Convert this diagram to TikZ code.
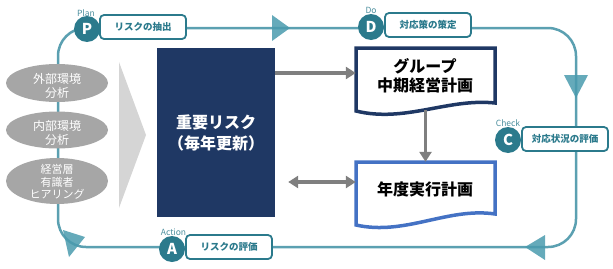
\documentclass[tikz,border=0pt]{standalone}
\usepackage{fontspec}
\setmainfont{Noto Sans CJK JP}
\usetikzlibrary{shapes.geometric,arrows.meta,calc}
\definecolor{loopc}{HTML}{5BA0B1}
\definecolor{tealdk}{HTML}{2B7A8C}
\definecolor{tric}{HTML}{4A9BAE}
\definecolor{ellc}{HTML}{A6A6A6}
\definecolor{chev}{HTML}{D5D5D5}
\definecolor{navy}{HTML}{1F3864}
\definecolor{docblue}{HTML}{4472C4}
\definecolor{garr}{HTML}{7F7F7F}
\begin{document}
\begin{tikzpicture}[x=1pt,y=-1pt,
 loopline/.style={draw=loopc,line width=2.5pt},
 tri/.style={fill=tric,fill opacity=0.85},
 phase/.style={circle,fill=tealdk,minimum size=26,inner sep=0,text=white,font=\fontsize{15}{15}\selectfont\bfseries},
 tag/.style={draw=tealdk,line width=1.8pt,fill=white,rounded corners=4,minimum width=86,minimum height=24,inner sep=0,text=tealdk,font=\fontsize{9.5}{10}\selectfont\bfseries},
 small/.style={text=tealdk!85,font=\fontsize{8.5}{9}\selectfont,inner sep=0},
 ell/.style={ellipse,fill=ellc,inner sep=0,minimum width=102},
 elltext/.style={text=white,align=center,inner sep=0},
 docbox/.style={minimum width=139,inner sep=0},
 doctext/.style={align=center,inner sep=0,font=\fontsize{16}{19}\selectfont\bfseries},
 garrow/.style={draw=garr,line width=3.2pt,-{Triangle[length=10pt,width=12pt]}},
]
\useasboundingbox (0,0) rectangle (613,268);
% PDCA loop
\draw[loopline,rounded corners=28] (58,28) rectangle (576,247);
\fill[tri] (272,15) -- (290,28) -- (272,41) -- cycle;
\fill[tri] (564,75) -- (576,98) -- (588,75) -- cycle;
\fill[tri] (545,235) -- (525,247) -- (545,260) -- cycle;
\fill[tri] (63,230) -- (85,237) -- (69,257) -- cycle;
% chevron
\fill[chev] (119,62) -- (146,135) -- (119,208) -- cycle;
% ellipses
\node[ell,minimum height=38] (e1) at (57,83) {};
\node[elltext,font=\fontsize{12}{14}\selectfont] (e1t) at (57,86) {外部環境\\分析};
\node[ell,minimum height=37] (e2) at (57,130) {};
\node[elltext,font=\fontsize{12}{14}\selectfont] (e2t) at (57,133) {内部環境\\分析};
\node[ell,minimum height=46] (e3) at (57,181) {};
\node[elltext,font=\fontsize{11}{12.5}\selectfont] (e3t) at (57,182) {経営層\\有識者\\ヒアリング};
% central box
\node[fill=navy,minimum width=118,minimum height=169,inner sep=0,text=white,align=center,
      font=\fontsize{16}{21}\selectfont\bfseries] (imp) at (216,132.5) {重要リスク\\（毎年更新）};
% documents
\draw[navy,line width=3.5pt,fill=white,line join=miter] (356,48) -- (495,48) -- (495,103)
  .. controls (448,98) and (405,123) .. (356,111) -- cycle;
\node[docbox,minimum height=62] (g1) at (425.5,79) {};
\node[doctext] (g1t) at (425,76) {グループ\\中期経営計画};
\draw[docblue,line width=3.5pt,fill=white,line join=miter] (356,162) -- (495,162) -- (495,214)
  .. controls (448,207) and (405,236) .. (356,225) -- cycle;
\node[docbox,minimum height=64] (g2) at (425.5,194) {};
\node[doctext] (g2t) at (425,189) {年度実行計画};
% gray arrows
\draw[garrow] (imp.east |- 0,73) -- (g1.west |- 0,73);
\draw[garrow] (g1.south) -- (g2.north);
\draw[garrow,{Triangle[length=10pt,width=12pt]}-{Triangle[length=10pt,width=12pt]}] ($(imp.east |- 0,182)+(13,0)$) -- (g2.west |- 0,182);
% tags and phase circles
\node[tag] (tp) at (143,27) {リスクの抽出};
\node[phase] (cp) at (87,29) {P};
\node[small] (lp) at (86,13) {Plan};
\node[tag] (td) at (428,25) {対応策の策定};
\node[phase] (cd) at (371,27) {D};
\node[small] (ld) at (371,10) {Do};
\node[tag] (tc) at (565,139) {対応状況の評価};
\node[phase] (cc) at (508,140) {C};
\node[small] (lc) at (508,123) {Check};
\node[tag] (ta) at (229,247) {リスクの評価};
\node[phase] (ca) at (172,249) {A};
\node[small] (la) at (173.5,232) {Action};
\end{tikzpicture}
\end{document}
